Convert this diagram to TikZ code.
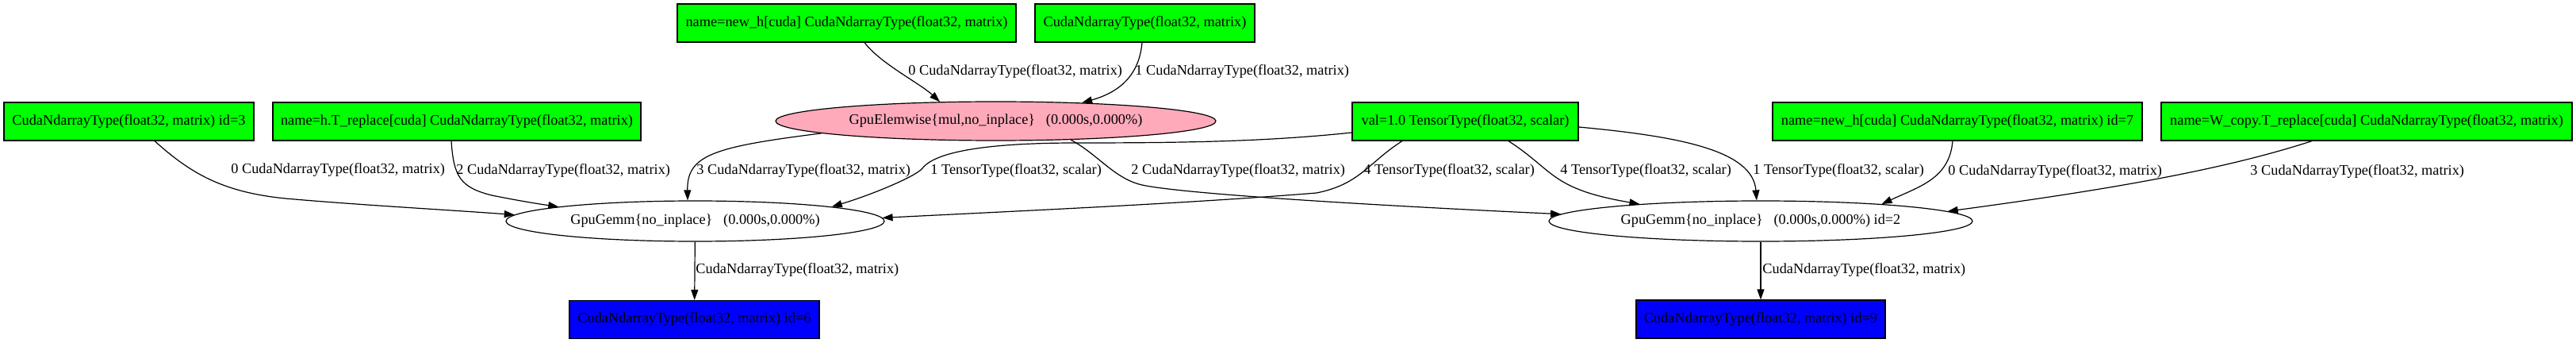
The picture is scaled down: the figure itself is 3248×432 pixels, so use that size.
\documentclass[tikz,border=0pt]{standalone}
\usepackage{fontspec}
\setmainfont{Liberation Serif}
\usetikzlibrary{arrows.meta,shapes.geometric}
\definecolor{ingreen}{HTML}{00FF00}
\definecolor{elempink}{HTML}{FFAABB}
\definecolor{outblue}{HTML}{0000FF}
\begin{document}
\begin{tikzpicture}[x=0.5pt,y=-0.5pt,
  font=\fontsize{9.15pt}{11pt}\selectfont,
  invar/.style={rectangle, draw=black, fill=ingreen, line width=0.6pt, minimum height=24pt, inner sep=0pt},
  outvar/.style={rectangle, draw=black, fill=outblue, line width=0.6pt, minimum height=24pt, inner sep=0pt},
  opnode/.style={ellipse, draw=black, line width=0.6pt, inner sep=0pt},
  lbl/.style={anchor=west, inner sep=0pt},
  conn/.style={line width=0.6pt, -{Triangle[length=6.5pt,width=4.5pt]}}]
\useasboundingbox (0,0) rectangle (3248,432);

% nodes
\node[invar, minimum width=157.5pt] (A) at (162.5,153) {CudaNdarrayType(float32, matrix) id=3};
\node[invar, minimum width=232pt] (B) at (576,153) {name=h.T\_replace[cuda] CudaNdarrayType(float32, matrix)};
\node[invar, minimum width=213.5pt] (C) at (1067.5,29) {name=new\_h[cuda] CudaNdarrayType(float32, matrix)};
\node[invar, minimum width=138.5pt] (D) at (1443.5,29) {CudaNdarrayType(float32, matrix)};
\node[opnode, fill=elempink, minimum width=277.5pt, minimum height=24.5pt] (E) at (1255.5,152.5) {GpuElemwise\{mul,no\_inplace\}\ \ \ (0.000s,0.000\%)};
\node[invar, minimum width=142.5pt] (F) at (1847.5,153) {val=1.0 TensorType(float32, scalar)};
\node[invar, minimum width=233pt] (G) at (2468,153) {name=new\_h[cuda] CudaNdarrayType(float32, matrix) id=7};
\node[invar, minimum width=259pt] (H) at (2984,153) {name=W\_copy.T\_replace[cuda] CudaNdarrayType(float32, matrix)};
\node[opnode, fill=white, minimum width=238.5pt, minimum height=25.5pt] (K) at (876.5,278.5) {GpuGemm\{no\_inplace\}\ \ \ (0.000s,0.000\%)};
\node[opnode, fill=white, minimum width=267pt, minimum height=25.5pt] (J) at (2220,278.5) {GpuGemm\{no\_inplace\}\ \ \ (0.000s,0.000\%) id=2};
\node[outvar, minimum width=157.5pt] (L) at (875.5,402.5) {CudaNdarrayType(float32, matrix) id=6};
\node[outvar, minimum width=157pt] (M) at (2220,402) {CudaNdarrayType(float32, matrix) id=9};

% connectors
\draw[conn] ([xshift=16.25pt]A.south) .. controls (240,218) and (280,242) .. (360,250) .. controls (450,258) and (560,264) .. (K.178);
\draw[conn] ([xshift=-3.5pt]B.south) .. controls (572,222) and (580,236) .. (620,246) .. controls (655,253) and (680,257) .. (K.174.2);
\draw[conn] ([xshift=11.25pt]C.south) .. controls (1110,80) and (1160,105) .. (E.161.4);
\draw[conn] ([xshift=-1.75pt]D.south) .. controls (1436,100) and (1405,118) .. (E.12.1);
\draw[conn] (E.184) .. controls (900,185) and (866,195) .. (K.110.4);
\draw[conn] ([yshift=-7pt]F.west) .. controls (1600,178) and (1500,180) .. (1357,180) .. controls (1250,180) and (1180,190) .. (1163,212) .. controls (1155,222) and (1100,245) .. (K.6.93);
\draw[conn] (E.-14.6) .. controls (1385,195) and (1405,225) .. (1440,233) .. controls (1500,246) and (1800,262) .. (J.178.8);
\draw[conn] ([xshift=-39.75pt]F.south) .. controls (1725,205) and (1715,232) .. (1660,243) .. controls (1500,256) and (1300,265) .. (K.1);
\draw[conn] ([xshift=27.25pt]F.south) .. controls (1960,215) and (1955,238) .. (J.172.3);
\draw[conn] ([yshift=-3.5pt]F.east) .. controls (2120,172) and (2210,190) .. (J.101);
\draw[conn] ([xshift=-3pt]G.south) .. controls (2458,225) and (2420,235) .. (J.8.24);
\draw[conn] ([xshift=-34.5pt]H.south) .. controls (2800,215) and (2650,240) .. (J.3);
\draw[conn] (K) -- (L);
\draw[conn] (J) -- (M);

% labels
\node[lbl] (la) at (291,214) {0 CudaNdarrayType(float32, matrix)};
\node[lbl] (lb) at (575,215) {2 CudaNdarrayType(float32, matrix)};
\node[lbl] (lc) at (1145,90) {0 CudaNdarrayType(float32, matrix)};
\node[lbl] (ld) at (1431,90) {1 CudaNdarrayType(float32, matrix)};
\node[lbl] (le) at (878,215) {3 CudaNdarrayType(float32, matrix)};
\node[lbl] (lf) at (1173,215) {1 TensorType(float32, scalar)};
\node[lbl] (lg) at (1426,215) {2 CudaNdarrayType(float32, matrix)};
\node[lbl] (lh) at (1719,215) {4 TensorType(float32, scalar)};
\node[lbl] (li) at (1967,215) {4 TensorType(float32, scalar)};
\node[lbl] (lj) at (2210,215) {1 TensorType(float32, scalar)};
\node[lbl] (lk) at (2456,216) {0 CudaNdarrayType(float32, matrix)};
\node[lbl] (ll) at (2837,216) {3 CudaNdarrayType(float32, matrix)};
\node[lbl] (lm) at (877,340) {CudaNdarrayType(float32, matrix)};
\node[lbl] (ln) at (2222,340) {CudaNdarrayType(float32, matrix)};
\end{tikzpicture}
\end{document}
